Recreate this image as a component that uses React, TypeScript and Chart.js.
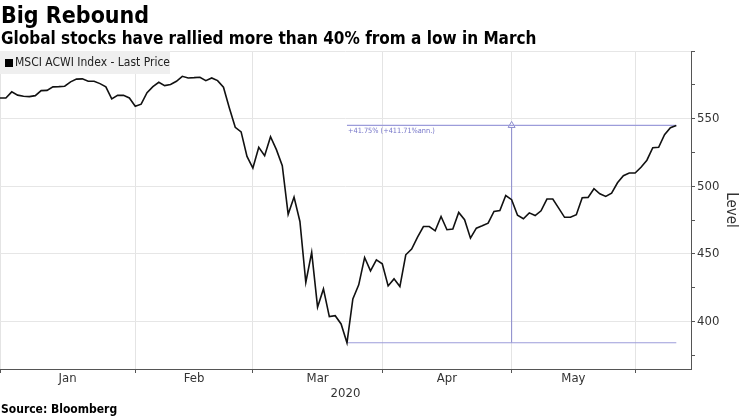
import { useEffect, useRef } from 'react';
import { Chart, registerables } from 'chart.js';

Chart.register(...registerables);

// ---- data ----
const titleText = 'Big Rebound';
const subtitleText = 'Global stocks have rallied more than 40% from a low in March';
const sourceText = 'Source: Bloomberg';
const seriesName = 'MSCI ACWI Index - Last Price';
const yAxisTitle = 'Level';
const yearLabel = '2020';
const monthLabels = ['Jan', 'Feb', 'Mar', 'Apr', 'May'];
// trading-day index at which each month starts (last entry = start of June)
const monthStarts = [0, 23, 43, 65, 87, 108];
// daily closes, one per trading day from 1 Jan 2020
const prices = [
  565.3, 565.3, 569.8, 567.4, 566.6, 566.3, 567.0, 570.7, 570.9, 573.5,
  573.7, 574.0, 577.2, 579.2, 579.4, 577.6, 577.6, 575.9, 573.5, 564.6,
  567.2, 567.2, 565.3, 559.2, 560.7, 569.2, 573.7, 576.9, 574.4, 575.2,
  577.6, 581.3, 580.1, 580.3, 580.6, 578.1, 580.1, 578.1, 573.2, 557.9,
  543.6, 540.2, 522.1, 513.5, 528.8, 522.6, 536.7, 527.1, 515.2, 479.3,
  492.1, 474.0, 429.0, 451.2, 410.7, 424.2, 403.7, 404.4, 398.3, 384.4,
  416.8, 427.2, 447.4, 437.5, 445.7, 442.7, 426.4, 431.6, 425.9, 449.4,
  453.6, 462.5, 470.3, 470.3, 467.1, 477.7, 467.9, 468.4, 480.7, 475.3,
  461.7, 469.1, 470.8, 472.8, 481.4, 482.1, 493.2, 490.1, 478.6, 476.0,
  480.4, 478.4, 481.9, 490.6, 490.6, 483.9, 477.1, 477.1, 479.0, 491.5,
  491.8, 498.2, 494.5, 492.5, 495.0, 502.6, 507.8, 509.8, 509.8, 514.1,
  519.3, 528.5, 528.8, 538.2, 543.3, 545.0,
];
const yLabelTicks = [400, 450, 500, 550];
const yMinorTicks = [375, 425, 475, 525, 575, 600];
const yMin = 365;
const yMax = 600;
const xMax = 117.5;
const changeLabel = '+41.75% (+411.71%ann.)';

const FONT = "'DejaVu Sans Condensed', 'DejaVu Sans', sans-serif";
const ANNOT = '#9c9cda';

export default function App() {
  const canvasRef = useRef<HTMLCanvasElement | null>(null);

  useEffect(() => {
    const canvas = canvasRef.current;
    if (!canvas) return;

    const points = prices.map((v, i) => ({ x: i, y: v }));
    let lowIdx = 0;
    prices.forEach((v, i) => { if (v < prices[lowIdx]) lowIdx = i; });
    const lastIdx = prices.length - 1;
    const low = prices[lowIdx];
    const high = prices[lastIdx];
    const midIdx = (lowIdx + lastIdx) / 2;

    const monthMids = monthLabels.map((_, i) => (monthStarts[i] + monthStarts[i + 1]) / 2);
    const xTickValues = [...monthStarts, ...monthMids].sort((a, b) => a - b);
    const isBoundary = (v: number) => monthStarts.includes(v);

    const annotationText = {
      id: 'annotationText',
      afterDatasetsDraw(chart: any) {
        const { ctx, scales } = chart;
        ctx.save();
        ctx.font = `7.3px ${FONT}`;
        ctx.fillStyle = '#7474c8';
        ctx.textBaseline = 'top';
        ctx.textAlign = 'left';
        ctx.fillText(changeLabel, scales.x.getPixelForValue(lowIdx) + 1, scales.y.getPixelForValue(high) + 2);
        ctx.restore();
      },
    };

    const chart = new Chart(canvas, {
      type: 'line',
      data: {
        datasets: [
          {
            label: seriesName,
            data: points,
            borderColor: '#111111',
            borderWidth: 1.6,
            pointRadius: 0,
            pointHoverRadius: 0,
            tension: 0,
          },
          {
            label: 'high',
            data: [{ x: lowIdx, y: high }, { x: lastIdx, y: high }],
            borderColor: ANNOT,
            borderWidth: 1.2,
            pointRadius: 0,
            pointHoverRadius: 0,
          },
          {
            label: 'low',
            data: [{ x: lowIdx, y: low }, { x: lastIdx, y: low }],
            borderColor: ANNOT,
            borderWidth: 1.2,
            pointRadius: 0,
            pointHoverRadius: 0,
          },
          {
            label: 'change',
            data: [{ x: midIdx, y: low }, { x: midIdx, y: high }],
            borderColor: '#8a8acc',
            borderWidth: 1,
            pointRadius: [0, 4],
            pointHoverRadius: 0,
            pointStyle: 'triangle',
            pointBackgroundColor: '#ffffff',
            pointBorderColor: '#8a8acc',
            pointBorderWidth: 1,
          },
        ],
      },
      options: {
        animation: false,
        responsive: false,
        events: [],
        layout: { autoPadding: false, padding: { top: 51, left: 0, right: 0, bottom: 15 } },
        plugins: { legend: { display: false }, tooltip: { enabled: false } },
        scales: {
          x: {
            type: 'linear',
            min: 0,
            max: xMax,
            afterBuildTicks: (scale: any) => {
              scale.ticks = xTickValues.map((v) => ({ value: v }));
            },
            afterFit: (scale: any) => {
              scale.height = 32;
              scale.paddingLeft = 0;
              scale.paddingRight = 0;
            },
            ticks: {
              autoSkip: false,
              maxRotation: 0,
              padding: -2,
              color: '#333333',
              font: { family: FONT, size: 13 },
              callback: (value: any) => {
                const k = monthMids.indexOf(Number(value));
                return k >= 0 ? monthLabels[k] : '';
              },
            },
            grid: {
              color: (ctx: any) => (ctx.tick && isBoundary(ctx.tick.value) ? '#e4e4e4' : 'rgba(0,0,0,0)'),
              tickColor: (ctx: any) => (ctx.tick && isBoundary(ctx.tick.value) ? '#555555' : 'rgba(0,0,0,0)'),
              tickLength: 4,
              lineWidth: 1,
            },
            border: { display: true, color: '#555555', width: 1 },
            title: {
              display: true,
              text: yearLabel,
              color: '#333333',
              font: { family: FONT, size: 13 },
              padding: 0,
            },
          },
          y: {
            type: 'linear',
            position: 'right',
            min: yMin,
            max: yMax,
            afterBuildTicks: (scale: any) => {
              scale.ticks = [...yLabelTicks, ...yMinorTicks].sort((a, b) => a - b).map((v) => ({ value: v }));
            },
            afterFit: (scale: any) => {
              scale.width = 49;
              scale.paddingTop = 0;
              scale.paddingBottom = 0;
            },
            ticks: {
              autoSkip: false,
              padding: 2,
              color: '#333333',
              font: { family: FONT, size: 13 },
              callback: (value: any) => (yLabelTicks.includes(Number(value)) ? String(value) : ''),
            },
            grid: {
              color: (ctx: any) => (ctx.tick && (yLabelTicks.includes(ctx.tick.value) || ctx.tick.value === yMax) ? '#e6e6e6' : 'rgba(0,0,0,0)'),
              tickColor: '#555555',
              tickLength: 4,
              lineWidth: 1,
            },
            border: { display: true, color: '#555555', width: 1 },
            title: {
              display: true,
              text: yAxisTitle,
              color: '#333333',
              font: { family: FONT, size: 15 },
              padding: 0,
            },
          },
        },
      },
      plugins: [annotationText],
    } as any);

    return () => chart.destroy();
  }, []);

  return (
    <div style={{ position: 'absolute', left: 0, top: 0, width: 740, height: 416, background: '#ffffff', overflow: 'hidden' }}>
      <canvas ref={canvasRef} width={740} height={416} style={{ position: 'absolute', left: 0, top: 0, width: 740, height: 416 }} />
      <div style={{ position: 'absolute', left: 1, top: 4, fontFamily: FONT, fontWeight: 'bold', fontSize: 23, lineHeight: '23px', color: '#000', whiteSpace: 'nowrap' }}>
        {titleText}
      </div>
      <div style={{ position: 'absolute', left: 1, top: 30, fontFamily: FONT, fontWeight: 'bold', fontSize: 17, lineHeight: '17px', color: '#000', whiteSpace: 'nowrap' }}>
        {subtitleText}
      </div>
      <div style={{ position: 'absolute', left: 0, top: 51, width: 170, height: 23, background: '#efefef', fontFamily: FONT, fontSize: 12, lineHeight: '23px', color: '#222', whiteSpace: 'nowrap' }}>
        <span style={{ position: 'absolute', left: 5, top: 8, width: 8, height: 8, background: '#000' }} />
        <span style={{ position: 'absolute', left: 15, top: 0 }}>{seriesName}</span>
      </div>
      <div style={{ position: 'absolute', left: 1, top: 403, fontFamily: FONT, fontWeight: 'bold', fontSize: 12, lineHeight: '12px', color: '#000', whiteSpace: 'nowrap' }}>
        {sourceText}
      </div>
    </div>
  );
}
